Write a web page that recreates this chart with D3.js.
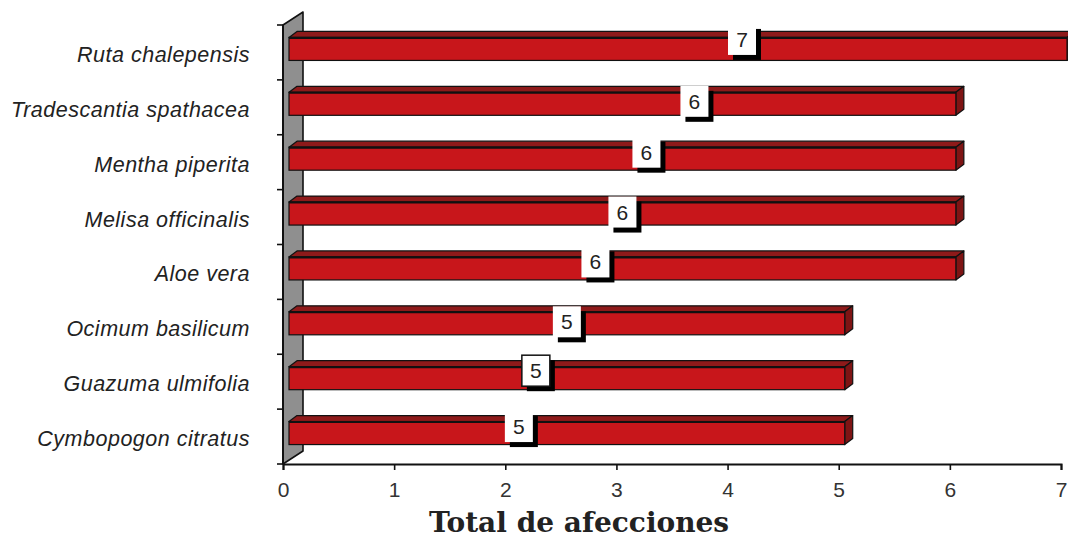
<!DOCTYPE html>
<html>
<head>
<meta charset="utf-8">
<script src="https://cdn.jsdelivr.net/npm/d3@7"></script>
<style>
  html, body { margin: 0; padding: 0; background: #fff; }
  svg { display: block; }
</style>
</head>
<body>
<svg id="chart" width="1068" height="539"></svg>
<script>
// Plants and number of ailments treated by each
const species = [
  "Ruta chalepensis",
  "Tradescantia spathacea",
  "Mentha piperita",
  "Melisa officinalis",
  "Aloe vera",
  "Ocimum basilicum",
  "Guazuma ulmifolia",
  "Cymbopogon citratus"
];
const afecciones = [7, 6, 6, 6, 6, 5, 5, 5];
const xTicks = [0, 1, 2, 3, 4, 5, 6, 7];
const axisTitle = "Total de afecciones";

// Value-label placement nudges [dx, dy] from the bar's midpoint / row centre
const labelNudge = [[70, -13], [78, -6], [30, -10], [6, -5], [-21, -10], [6, -5], [-25, -11], [-42, -10]];

const svg = d3.select("#chart");

const x = d3.scaleLinear().domain([0, 7]).range([283, 1061]);
const y = d3.scaleBand().domain(species).range([25, 464]).padding(0);

// 3D depth of the bars and the back wall
const depth = { dx: 8, dy: -6 };
const wallDepth = { dx: 20, dy: -13 };
const barH = 23;
const barShift = 6;

// Back wall (gray panel behind the category axis)
const x0 = x(0), yTop = y.range()[0], yBot = y.range()[1];
svg.append("path")
  .attr("d", `M${x0},${yTop} L${x0 + wallDepth.dx},${yTop + wallDepth.dy} L${x0 + wallDepth.dx},${yBot + wallDepth.dy} L${x0},${yBot} Z`)
  .attr("fill", "#8f8f8f")
  .attr("stroke", "#111")
  .attr("stroke-width", 1.6)
  .attr("stroke-linejoin", "round");

// Category axis line and ticks
svg.append("line")
  .attr("x1", x0).attr("x2", x0).attr("y1", yTop).attr("y2", yBot)
  .attr("stroke", "#111").attr("stroke-width", 2);
const yTickPos = species.map(s => y(s)).concat([yBot]);
svg.selectAll("line.ytick").data(yTickPos).enter().append("line")
  .attr("class", "ytick")
  .attr("x1", x0 - 6).attr("x2", x0)
  .attr("y1", d => d).attr("y2", d => d)
  .attr("stroke", "#111").attr("stroke-width", 1.6);

// Value axis
const xAxis = d3.axisBottom(x).tickValues(xTicks).tickSize(6).tickPadding(12).tickFormat(d3.format("d"));
const gx = svg.append("g").attr("transform", `translate(0,${yBot})`).call(xAxis);
gx.select(".domain").attr("stroke", "#111").attr("stroke-width", 2);
gx.selectAll(".tick line").attr("stroke", "#111").attr("stroke-width", 1.6);
gx.selectAll(".tick text")
  .attr("font-family", "'Liberation Sans', Arial, sans-serif")
  .attr("font-size", 21)
  .attr("fill", "#333");

// Bars
const bars = svg.selectAll("g.bar").data(species.map((s, i) => ({ s, v: afecciones[i], i })))
  .enter().append("g").attr("class", "bar");

function frontTop(d) { return y(d.s) + y.bandwidth() / 2 - 3.5 - barH / 2; }

bars.each(function (d) {
  const g = d3.select(this);
  const xl = x(0) + barShift, xr = x(d.v) + barShift;
  const t = frontTop(d), b = t + barH;
  // top face
  g.append("path")
    .attr("d", `M${xl},${t} L${xl + depth.dx},${t + depth.dy} L${xr + depth.dx},${t + depth.dy} L${xr},${t} Z`)
    .attr("fill", "#8e1a1a").attr("stroke", "#111").attr("stroke-width", 1.2).attr("stroke-linejoin", "round");
  // side face
  g.append("path")
    .attr("d", `M${xr},${t} L${xr + depth.dx},${t + depth.dy} L${xr + depth.dx},${b + depth.dy} L${xr},${b} Z`)
    .attr("fill", "#7e1414").attr("stroke", "#111").attr("stroke-width", 1.2).attr("stroke-linejoin", "round");
  // front face
  g.append("rect")
    .attr("x", xl).attr("y", t).attr("width", xr - xl).attr("height", barH)
    .attr("fill", "#c8161b").attr("stroke", "#111").attr("stroke-width", 1.2);
  g.append("line")
    .attr("x1", xl).attr("x2", xr).attr("y1", t + 0.5).attr("y2", t + 0.5)
    .attr("stroke", "#111").attr("stroke-width", 2);
});

// Value labels: white boxes with a drop shadow
const boxW = 28, boxH = 31;
bars.each(function (d) {
  const g = d3.select(this);
  const cx = x(d.v / 2) + labelNudge[d.i][0];
  const cy = y(d.s) + y.bandwidth() / 2 + labelNudge[d.i][1];
  g.append("rect")
    .attr("x", cx - boxW / 2 + 5).attr("y", cy - boxH / 2 + 5)
    .attr("width", boxW).attr("height", boxH).attr("fill", "#000");
  g.append("rect")
    .attr("x", cx - boxW / 2).attr("y", cy - boxH / 2)
    .attr("width", boxW).attr("height", boxH).attr("fill", "#fff")
    .attr("stroke", d.i === 6 ? "#111" : "none").attr("stroke-width", 1.5);
  g.append("text")
    .attr("x", cx).attr("y", cy).attr("dy", "0.36em")
    .attr("text-anchor", "middle")
    .attr("font-family", "'Liberation Sans', Arial, sans-serif")
    .attr("font-size", 21).attr("fill", "#222")
    .text(d.v);
});

// Category labels
svg.selectAll("text.cat").data(species).enter().append("text")
  .attr("class", "cat")
  .attr("x", 250)
  .attr("y", d => y(d) + y.bandwidth() / 2 + 2)
  .attr("dy", "0.35em")
  .attr("text-anchor", "end")
  .attr("font-family", "'Liberation Sans', Arial, sans-serif")
  .attr("font-style", "italic")
  .attr("font-size", 21.5)
  .attr("letter-spacing", 0.5)
  .attr("fill", "#222")
  .text(d => d);

// Axis title
svg.append("text")
  .attr("x", 579).attr("y", 532)
  .attr("text-anchor", "middle")
  .attr("font-family", "'DejaVu Serif', serif")
  .attr("font-weight", "bold")
  .attr("font-size", 28)
  .attr("fill", "#222")
  .text(axisTitle);
</script>
</body>
</html>
